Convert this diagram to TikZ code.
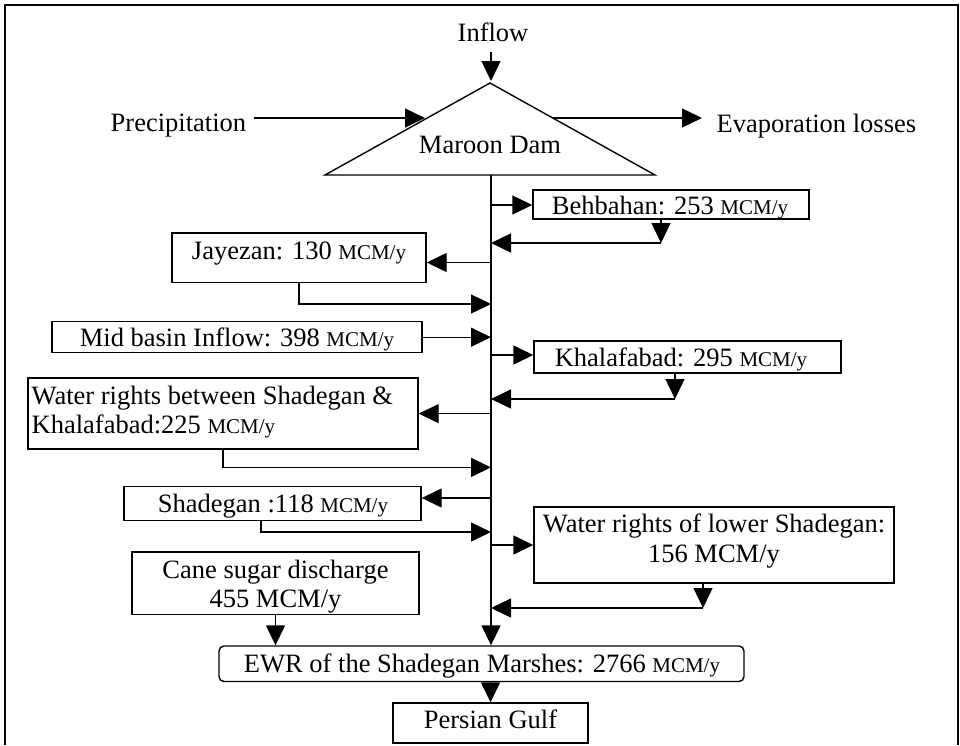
\documentclass[tikz,border=0pt]{standalone}
\usepackage{fontspec}
\setmainfont{Liberation Serif}
\usetikzlibrary{arrows.meta}
\newcommand\smallunit[1]{{\fontsize{21pt}{24pt}\selectfont #1}}
\begin{document}
\begin{tikzpicture}[x=1pt,y=-1pt,
  line width=1.4pt,
  arr/.style={-{Triangle[length=20pt,width=19pt]}},
  box/.style={draw, line width=1.4pt, rectangle, inner sep=0pt},
  txt/.style={inner sep=0pt, font=\fontsize{26.5pt}{30pt}\selectfont},
]
\useasboundingbox (0,0) rectangle (960,745);
% frame
\draw[line width=2pt] (5,745) -- (5,5) -- (958,5) -- (958,745);

% dam
\coordinate (apex) at (490,83);
\coordinate (bl) at (325,175);
\coordinate (br) at (655,175);
\draw[line join=miter] (apex) -- (bl) -- (br) -- cycle;
\node[txt, anchor=base] (dam) at (490,153) {Maroon Dam};
\node[txt, anchor=base] (inflow) at (493,41) {Inflow};
\coordinate (in1) at (491,52);
\coordinate (in2) at (491,81);
\draw[arr] (in1) -- (in2);

\node[txt, anchor=base west] (prec) at (110,131) {Precipitation};
\coordinate (pl) at (254,118);
\coordinate (pt) at (425,118);
\draw[arr] (pl) -- (pt);
\node[txt, anchor=base west] (evap) at (716,132) {Evaporation losses};
\coordinate (el) at (553,118);
\coordinate (et) at (702,118);
\draw[arr] (el) -- (et);

% boxes
\node[box, minimum width=276pt, minimum height=29pt] (beh) at (671,204.5) {};
\node[txt, anchor=base] (behT) at (670,214) {Behbahan: 253 \smallunit{MCM/y}};

\node[box, minimum width=254pt, minimum height=49.5pt] (jay) at (299,257.75) {};
\node[txt, anchor=base] (jayT) at (299,259) {Jayezan: 130 \smallunit{MCM/y}};

\node[box, minimum width=370pt, minimum height=31pt] (mid) at (237,337.2) {};
\node[txt, anchor=base] (midT) at (237,346) {Mid basin Inflow: 398 \smallunit{MCM/y}};

\node[box, minimum width=307pt, minimum height=32pt] (kha) at (687.5,357) {};
\node[txt, anchor=base] (khaT) at (681,366) {Khalafabad: 295 \smallunit{MCM/y}};

\node[box, minimum width=390pt, minimum height=71pt] (wrb) at (223,413.5) {};
\node[txt, anchor=base west] (wrbA) at (31,404) {Water rights between Shadegan \&};
\node[txt, anchor=base west] (wrbB) at (31,433) {Khalafabad:225 \smallunit{MCM/y}};

\node[box, minimum width=297pt, minimum height=34.3pt] (sha) at (272.5,503.6) {};
\node[txt, anchor=base] (shaT) at (273,512) {Shadegan :118 \smallunit{MCM/y}};

\node[box, minimum width=360pt, minimum height=76pt] (wrl) at (714,545) {};
\node[txt, anchor=base] (wrlA) at (714,532) {Water rights of lower Shadegan:};
\node[txt, anchor=base] (wrlB) at (714,562) {156 MCM/y};

\node[box, minimum width=287pt, minimum height=62.5pt] (cane) at (275.5,583.25) {};
\node[txt, anchor=base] (caneA) at (275.5,578) {Cane sugar discharge};
\node[txt, anchor=base] (caneB) at (275.5,607.5) {455 MCM/y};

\node[box, rounded corners=5pt, minimum width=525pt, minimum height=35.5pt] (ewr) at (481.5,663.75) {};
\node[txt, anchor=base] (ewrT) at (482,672) {EWR of the Shadegan Marshes: 2766 \smallunit{MCM/y}};

\node[box, minimum width=195pt, minimum height=40pt] (pg) at (490.5,723) {};
\node[txt, anchor=base] (pgT) at (490.5,728) {Persian Gulf};

% main stem
\coordinate (m0) at (491,175);
\draw[arr] (m0) -- (m0 |- ewr.north);

% Behbahan
\coordinate (jb) at (491,205);
\draw[arr] (jb) -- (jb -| beh.west);
\coordinate (rb) at (661,243);
\draw[arr] (rb |- beh.south) -- (rb);
\draw[arr] (rb) -- (rb -| m0);

% Jayezan
\coordinate (jj) at (491,262.5);
\draw[arr] (jj) -- (jj -| jay.east);
\coordinate (rj) at (299,304);
\draw[arr] (jay.south) -- (rj) -- (rj -| m0);

% Mid basin
\draw[arr] (mid.east) -- (mid.east -| m0);

% Khalafabad
\coordinate (jk) at (491,355);
\draw[arr] (jk) -- (jk -| kha.west);
\coordinate (rk) at (675,399);
\draw[arr] (rk |- kha.south) -- (rk);
\draw[arr] (rk) -- (rk -| m0);

% Water rights between
\coordinate (jw) at (491,413.6);
\draw[arr] (jw) -- (jw -| wrb.east);
\coordinate (rw) at (223,467.4);
\draw[arr] (wrb.south) -- (rw) -- (rw -| m0);

% Shadegan
\coordinate (js) at (491,498);
\draw[arr] (js) -- (js -| sha.east);
\coordinate (rs) at (261,532);
\draw[arr] (rs |- sha.south) -- (rs) -- (rs -| m0);

% lower Shadegan
\coordinate (jl) at (491,545);
\draw[arr] (jl) -- (jl -| wrl.west);
\coordinate (rl) at (703,608);
\draw[arr] (rl |- wrl.south) -- (rl);
\draw[arr] (rl) -- (rl -| m0);

% Cane sugar
\draw[arr] (cane.south) -- (cane.south |- ewr.north);

% EWR to gulf
\draw[arr] (pg.north |- ewr.south) -- (pg.north);
\end{tikzpicture}
\end{document}
